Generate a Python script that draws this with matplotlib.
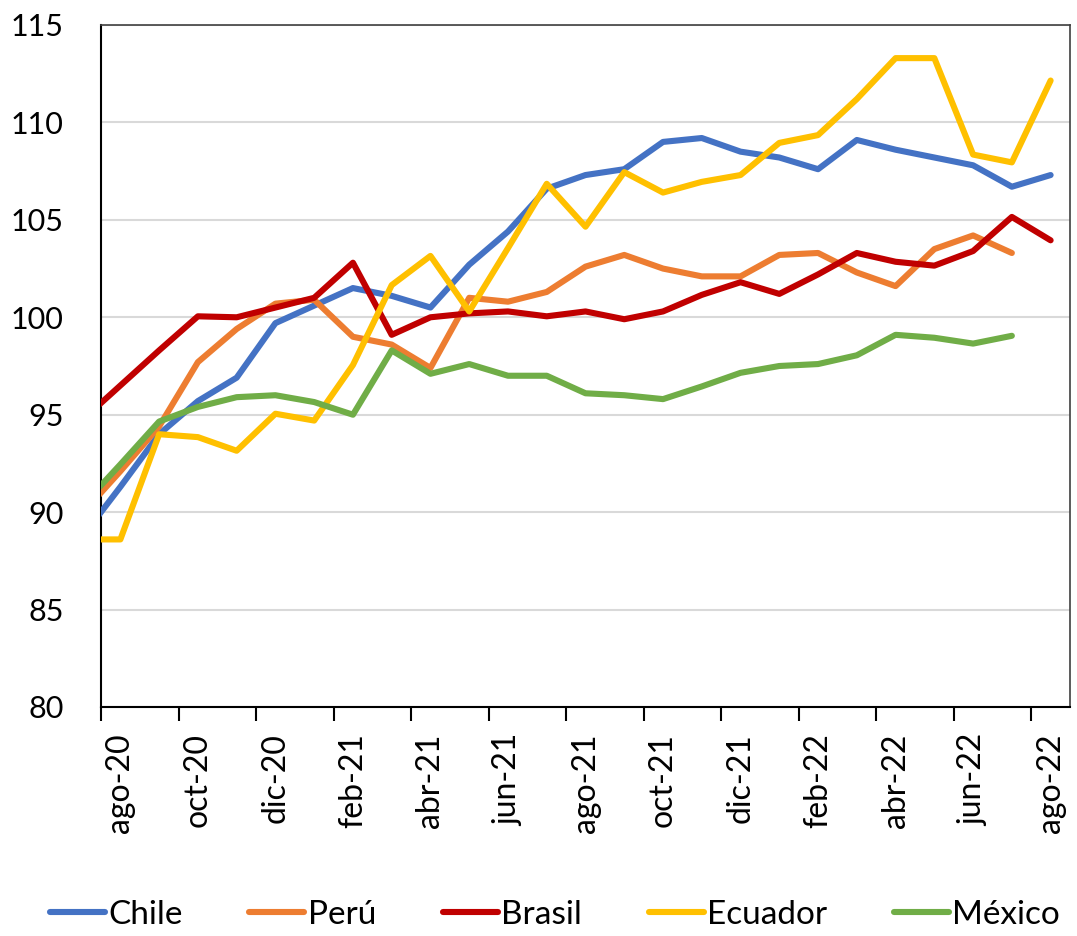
import matplotlib
matplotlib.use("Agg")
import matplotlib.pyplot as plt
import numpy as np

plt.rcParams['font.family'] = ['Lato', 'DejaVu Sans']

months = ['jul-20', 'ago-20', 'sep-20', 'oct-20', 'nov-20', 'dic-20',
          'ene-21', 'feb-21', 'mar-21', 'abr-21', 'may-21', 'jun-21',
          'jul-21', 'ago-21', 'sep-21', 'oct-21', 'nov-21', 'dic-21',
          'ene-22', 'feb-22', 'mar-22', 'abr-22', 'may-22', 'jun-22',
          'jul-22', 'ago-22']

chile = [88.7, 91.3, 94.0, 95.7, 96.9, 99.7, 100.6, 101.5, 101.1, 100.5,
         102.7, 104.4, 106.6, 107.3, 107.6, 109.0, 109.2, 108.5, 108.2,
         107.6, 109.1, 108.6, 108.2, 107.8, 106.7, 107.3]
peru = [89.9, 92.1, 94.4, 97.7, 99.4, 100.7, 100.9, 99.0, 98.6, 97.4,
        101.0, 100.8, 101.3, 102.6, 103.2, 102.5, 102.1, 102.1, 103.2,
        103.3, 102.3, 101.6, 103.5, 104.2, 103.3, np.nan]
brasil = [94.7, 96.5, 98.3, 100.05, 100.0, 100.5, 101.0, 102.8, 99.1, 100.0,
          100.2, 100.3, 100.05, 100.3, 99.9, 100.3, 101.15, 101.8, 101.2,
          102.2, 103.3, 102.85, 102.65, 103.4, 105.15, 103.95]
ecuador = [88.6, 88.6, 94.0, 93.85, 93.15, 95.05, 94.7, 97.55, 101.65, 103.15,
           100.3, 103.55, 106.85, 104.65, 107.45, 106.4, 106.95, 107.3, 108.95,
           109.35, 111.2, 113.3, 113.3, 108.35, 107.95, 112.15]
mexico = [90.3, 92.45, 94.65, 95.4, 95.9, 96.0, 95.65, 95.0, 98.3, 97.1,
          97.6, 97.0, 97.0, 96.1, 96.0, 95.8, 96.45, 97.15, 97.5, 97.6,
          98.05, 99.1, 98.95, 98.65, 99.05, np.nan]

series = [('Chile', chile, '#4472C4'),
          ('Perú', peru, '#ED7D31'),
          ('Brasil', brasil, '#C00000'),
          ('Ecuador', ecuador, '#FFC000'),
          ('México', mexico, '#70AD47')]

W, H = 1077, 936
fig = plt.figure(figsize=(W / 100, H / 100), dpi=100)
ax = fig.add_axes([101 / W, 1 - 707 / H, (1070 - 101) / W, (707 - 25) / H])

x = np.arange(len(months)) - 1  # jul-20 sits just left of the visible range
for name, vals, col in series:
    ax.plot(x, vals, color=col, lw=4.4, label=name,
            solid_joinstyle='round', solid_capstyle='round', zorder=3)

ax.set_xlim(-0.5, 24.5)
ax.set_ylim(80, 115)
ax.set_yticks(np.arange(80, 116, 5))
ax.yaxis.grid(True, color='#D9D9D9', lw=1.5, zorder=0)
ax.set_axisbelow(True)
ax.tick_params(axis='y', length=0, pad=27, labelsize=22)

# tick marks at category boundaries, labels at category centres
ax.set_xticks(np.arange(-0.5, 24.0, 2))
ax.set_xticklabels([])
ax.tick_params(axis='x', which='major', length=10, width=1.5, color='black')
lab_pos = np.arange(0, 25, 2)
ax.set_xticks(lab_pos, minor=True)
ax.set_xticklabels([months[i + 1] for i in lab_pos], minor=True, rotation=90)
ax.tick_params(axis='x', which='minor', length=0, pad=19, labelsize=23)

for s in ['top', 'right']:
    ax.spines[s].set_color('#404040')
    ax.spines[s].set_linewidth(1.2)
for s in ['left', 'bottom']:
    ax.spines[s].set_color('black')
    ax.spines[s].set_linewidth(1.5)

fig.legend(loc='center left', bbox_to_anchor=(50 / W, 1 - 915 / H),
           ncol=5, frameon=False, fontsize=24, handlelength=1.65,
           handletextpad=0.1, columnspacing=2.0, borderpad=0,
           borderaxespad=0)

fig.savefig('out.png', dpi=100)
